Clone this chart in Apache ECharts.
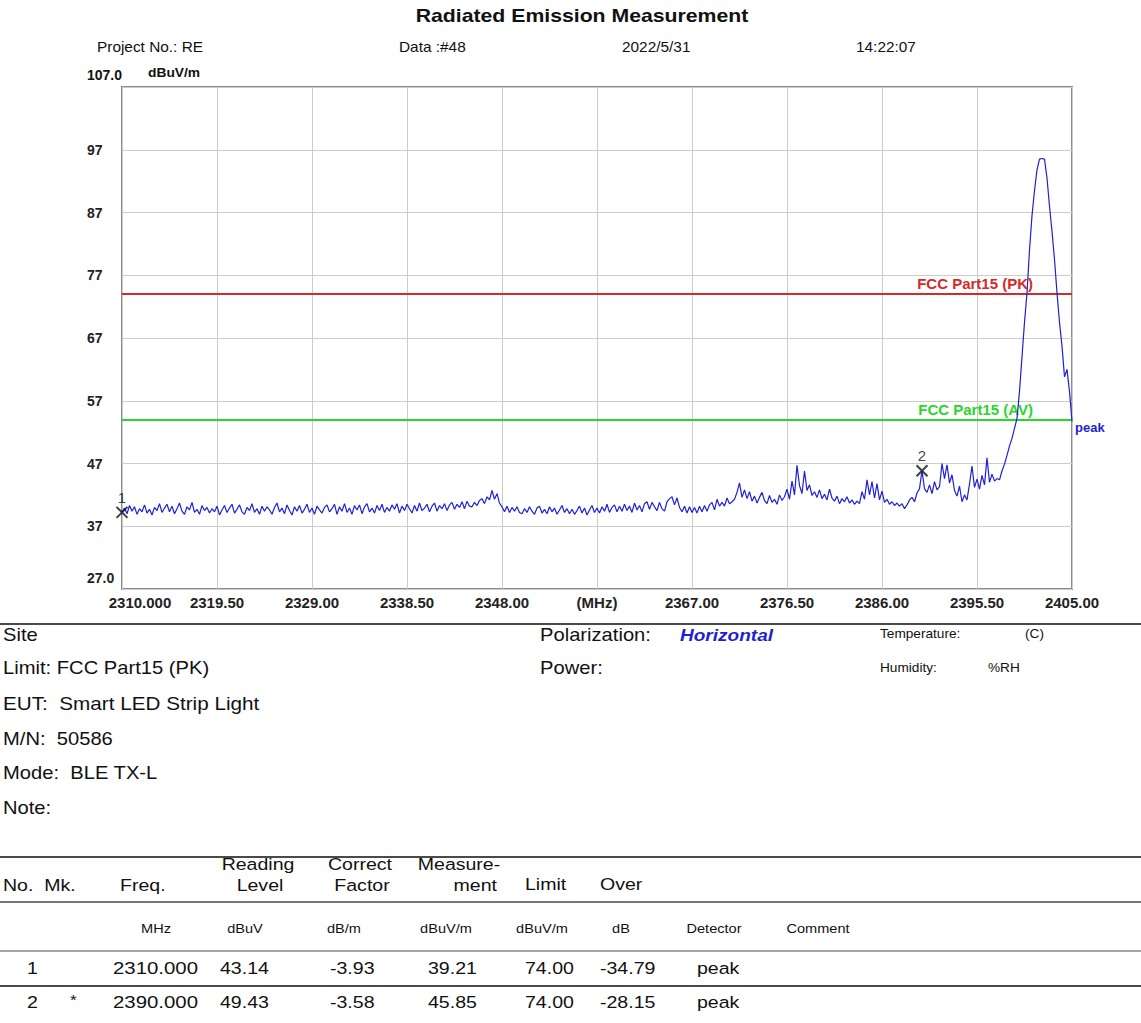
<!DOCTYPE html>
<html><head><meta charset="utf-8">
<script src="https://cdn.jsdelivr.net/npm/echarts@6/dist/echarts.min.js"></script>
<style>html,body{margin:0;padding:0;background:#fff;}#c{width:1141px;height:1023px;}</style>
</head><body><div id="c"></div>
<script>
// ---------- data ----------
const freqStart = 2310, freqEnd = 2405, freqStep = 0.25;
const s2310 = [39.21,39.9,39.0,40.3,39.4,40.1,38.9,39.8,39.3,40.4,39.1,39.7,38.8,40.0,39.5,40.6,39.2,39.9,40.5,39.3,
  40.2,39.0,39.8,40.7,39.4,38.9,40.1,39.6,40.8,39.2,39.7,38.9,40.3,39.5,40.0,39.1,39.8,39.3,40.2,38.8];
const s2320 = [39.6,40.3,39.2,39.9,40.5,39.1,39.7,40.4,39.3,38.9,40.0,39.5,40.6,39.2,39.8,38.9,40.2,39.4,40.1,39.6,
  38.9,40.0,40.7,39.3,39.9,39.0,40.4,39.5,38.8,40.1,39.4,40.3,39.1,39.7,40.5,39.2,39.9,38.9,40.2,39.6];
const s2330 = [39.1,40.0,40.4,39.3,39.8,40.5,38.9,40.1,39.4,40.6,39.2,39.9,38.9,40.3,39.6,40.4,39.0,40.1,40.6,39.3,
  39.9,39.1,40.3,39.5,40.5,39.2,40.0,39.4,40.4,39.7,40.6,39.1,40.2,39.5,40.5,39.8,39.1,40.3,39.4,40.7];
const s2340 = [39.5,39.9,40.5,39.3,40.2,40.7,39.4,40.3,39.8,40.6,39.5,40.4,40.8,39.7,40.5,40.0,40.9,39.8,41.0,40.2,
  40.1,40.8,40.3,41.1,41.4,40.6,41.7,41.2,42.7,41.3,42.2,40.7,40.1,39.3,40.2,39.2,40.0,39.4,40.1,39.2];
const s2350 = [39.0,39.8,39.2,40.1,39.4,38.9,39.9,40.2,39.1,39.7,39.0,40.1,39.3,39.9,38.9,39.6,40.3,39.2,39.8,39.0,
  39.7,38.9,39.5,40.2,39.1,39.9,38.8,39.6,40.3,39.2,39.9,39.1,40.1,39.4,40.5,39.2,40.0,40.4,39.3,40.2];
const s2360 = [39.4,40.5,39.5,40.2,39.2,40.7,39.6,40.3,39.3,40.6,40.9,39.7,40.8,40.1,39.5,40.8,39.8,39.4,40.9,41.4,
  41.7,40.4,41.5,40.0,39.3,40.2,39.1,40.1,39.2,40.0,39.1,40.2,39.3,40.3,39.4,40.4,40.8,39.6,41.3,40.2];
const s2370 = [40.8,40.2,41.5,40.6,40.9,41.3,42.4,43.9,41.6,42.8,41.4,42.5,41.0,41.8,40.7,41.6,42.4,41.1,40.6,41.9,
  40.8,41.3,40.5,42.0,41.1,41.7,42.9,41.3,44.2,42.0,46.7,43.5,42.2,45.8,42.7,43.6,41.9,42.5,41.6,42.8];
const s2380 = [41.4,42.1,41.2,42.9,41.5,41.0,41.8,40.6,41.4,40.9,41.7,40.7,41.2,40.5,41.0,40.6,42.5,41.3,44.4,42.0,
  44.1,41.5,43.8,41.2,42.6,40.8,41.3,40.5,40.9,40.3,40.7,40.2,40.6,39.8,40.4,41.2,41.6,40.9,42.3,43.0];
const s2390 = [45.85,43.0,42.4,43.6,42.2,44.1,42.8,43.3,47.0,44.6,46.8,43.9,45.2,42.7,41.8,43.4,40.9,42.0,41.2,43.7,
  46.6,43.2,44.5,42.9,45.1,43.6,47.9,44.0,45.3,44.2,44.6,44.4,45.8,46.9,48.3,49.8,51.0,52.6,54.2,58.5];
const s2400 = [64.0,69.5,74.2,81.0,86.5,90.5,93.8,95.5,95.6,95.5,92.5,88.0,84.0,79.5,74.2,69.5,65.7,60.8,62.0,58.5,53.7];

const xTickLabels = ['2310.000','2319.50','2329.00','2338.50','2348.00','(MHz)','2367.00','2376.50','2386.00','2395.50','2405.00'];
const yTickLabels = ['27.0','37','47','57','67','77','87','97','107.0'];
const limitPK = 74, limitAV = 54;

// marker table
const markNo = ['1','2'];
const markStar = ['','*'];
const markFreq = [2310.000, 2390.000];
const readingLevel = [43.14, 49.43];
const correctFactor = [-3.93, -3.58];
const measurement = [39.21, 45.85];
const limitCol = [74.00, 74.00];
const overCol = [-34.79, -28.15];
const detectorCol = ['peak','peak'];

// ---------- build ----------
const trace = [].concat(s2310,s2320,s2330,s2340,s2350,s2360,s2370,s2380,s2390,s2400);
const traceData = trace.map((v,i)=>[i*freqStep, v]); // x = offset from freqStart
const markerData = markFreq.map((f,i)=>[f-freqStart, measurement[i], markNo[i]]);

const FF = '"Liberation Sans", Arial, sans-serif';
function T(x, y, text, size, opt){
  opt = opt || {};
  return {type:'text', x:x, y:y, scaleX: opt.sx || 1.15, silent:true,
    style:{text:text, fill: opt.color || '#111', fontSize:size, fontFamily:FF,
      fontWeight: opt.bold ? 'bold':'normal', fontStyle: opt.italic ? 'italic':'normal',
      align: opt.align || 'left', verticalAlign:'middle'}};
}
function L(y, w){ return {type:'line', silent:true, shape:{x1:0,y1:y,x2:1141,y2:y}, style:{stroke:'#4a4a4a', lineWidth:w}}; }

const g = [];
g.push(T(582, 16, 'Radiated Emission Measurement', 18, {bold:true, align:'center', sx:1.18}));
g.push(T(97, 47, 'Project No.: RE', 14, {sx:1.1}));
g.push(T(399, 47, 'Data :#48', 14, {sx:1.1}));
g.push(T(622, 47, '2022/5/31', 14, {sx:1.1}));
g.push(T(856, 47, '14:22:07', 14, {sx:1.1}));
g.push(T(87, 75, '107.0', 14, {bold:true, sx:1.0}));
g.push(T(148, 73, 'dBuV/m', 12, {bold:true, sx:1.15}));

g.push(L(624, 2));
g.push(T(3, 635, 'Site', 18, {sx:1.12}));
g.push(T(3, 668, 'Limit: FCC Part15 (PK)', 18, {sx:1.12}));
g.push(T(3, 704, 'EUT:  Smart LED Strip Light', 18, {sx:1.15}));
g.push(T(3, 739, 'M/N:  50586', 18, {sx:1.12}));
g.push(T(3, 773, 'Mode:  BLE TX-L', 18, {sx:1.12}));
g.push(T(3, 808, 'Note:', 18, {sx:1.12}));
g.push(T(540, 635, 'Polarization:', 18, {sx:1.12}));
g.push(T(680, 635, 'Horizontal', 17, {bold:true, italic:true, color:'#1f1fcf', sx:1.12}));
g.push(T(540, 668, 'Power:', 18, {sx:1.12}));
g.push(T(880, 634, 'Temperature:', 13, {sx:1.05}));
g.push(T(1025, 634, '(C)', 13, {sx:1.05}));
g.push(T(880, 668, 'Humidity:', 13, {sx:1.05}));
g.push(T(988, 668, '%RH', 13, {sx:1.05}));

// table
g.push(L(857, 2));
g.push(T(3, 885, 'No.  Mk.', 17));
g.push(T(120, 885, 'Freq.', 17));
g.push(T(258, 864, 'Reading', 17, {align:'center'}));
g.push(T(260, 885, 'Level', 17, {align:'center'}));
g.push(T(360, 864, 'Correct', 17, {align:'center'}));
g.push(T(362, 885, 'Factor', 17, {align:'center'}));
g.push(T(459, 864, 'Measure-', 17, {align:'center'}));
g.push(T(497, 885, 'ment', 17, {align:'right'}));
g.push(T(525, 884, 'Limit', 17));
g.push(T(600, 884, 'Over', 17));
g.push(L(902, 1.5));
const unitX = [156,245,344,446,542,621,714,818];
const unitT = ['MHz','dBuV','dB/m','dBuV/m','dBuV/m','dB','Detector','Comment'];
unitT.forEach((u,i)=>g.push(T(unitX[i], 929, u, 13, {align:'center', sx:1.12})));
g.push(L(951, 1));
const rowY = [968, 1002];
markNo.forEach((n,i)=>{
  const y = rowY[i];
  g.push(T(27, y, n, 17));
  if (markStar[i]) g.push(T(70, y-3, markStar[i], 15));
  g.push(T(113, y, markFreq[i].toFixed(3), 17, {sx:1.2}));
  g.push(T(220, y, readingLevel[i].toFixed(2), 17));
  g.push(T(330, y, correctFactor[i].toFixed(2), 17));
  g.push(T(428, y, measurement[i].toFixed(2), 17));
  g.push(T(525, y, limitCol[i].toFixed(2), 17));
  g.push(T(600, y, overCol[i].toFixed(2), 17));
  g.push(T(697, y, detectorCol[i], 17));
});
g.push(L(986, 2));

const chart = echarts.init(document.getElementById('c'), null, {renderer:'svg'});
chart.setOption({
  animation:false,
  backgroundColor:'#fff',
  grid:{left:122, right:69, top:87, bottom:434, show:true, borderColor:'#8c8c8c', borderWidth:2, backgroundColor:'transparent'},
  xAxis:{type:'value', min:0, max:freqEnd-freqStart, interval:9.5,
    axisLine:{show:false}, axisTick:{show:false},
    splitLine:{show:true, lineStyle:{color:'#cccccc', width:1}},
    axisLabel:{margin:6, color:'#222', fontFamily:FF, fontWeight:'bold', fontSize:15,
      formatter:(v,i)=> i===0 ? '{f|'+xTickLabels[0]+'}' : (xTickLabels[i]||''),
      rich:{f:{fontFamily:FF, fontWeight:'bold', fontSize:15, color:'#222', padding:[0,0,0,36]}}}},
  yAxis:{type:'value', min:27, max:107, interval:10,
    axisLine:{show:false}, axisTick:{show:false},
    splitLine:{show:true, lineStyle:{color:'#cccccc', width:1}},
    axisLabel:{margin:35, align:'left', color:'#222', fontFamily:FF, fontWeight:'bold', fontSize:14,
      formatter:(v,i)=> i===0 ? '{b|'+yTickLabels[0]+'}' : (i===8 ? '' : yTickLabels[i]),
      rich:{b:{fontFamily:FF, fontWeight:'bold', fontSize:14, color:'#222', padding:[0,0,22,0]}}}},
  graphic:{elements:g},
  series:[
    {type:'line', data:traceData, showSymbol:false, symbol:'none', z:5,
      lineStyle:{color:'#2020d4', width:1.2},
      endLabel:{show:true, formatter:'peak', color:'#1f1fcf', fontFamily:FF, fontWeight:'bold', fontSize:13, distance:3, offset:[0,6]},
      markLine:{silent:true, symbol:'none', animation:false,
        data:[
          {yAxis:limitPK, lineStyle:{color:'#d42a2a', width:2, type:'solid'},
            label:{show:true, position:'insideEndTop', formatter:'FCC Part15 (PK)', color:'#d42a2a', fontFamily:FF, fontWeight:'bold', fontSize:15, padding:[0,36,0,0], distance:3}},
          {yAxis:limitAV, lineStyle:{color:'#2ad62a', width:2, type:'solid'},
            label:{show:true, position:'insideEndTop', formatter:'FCC Part15 (AV)', color:'#2ad62a', fontFamily:FF, fontWeight:'bold', fontSize:15, padding:[0,36,0,0], distance:3}}
        ]}},
    {type:'scatter', data:markerData, z:6, symbol:'path://M0 0L10 10M10 0L0 10', symbolSize:11,
      itemStyle:{color:'rgba(0,0,0,0)', borderColor:'#111', borderWidth:2},
      label:{show:true, position:'top', distance:1, color:'#111', fontFamily:FF, fontSize:15, formatter:p=>p.value[2]}}
  ]
});
</script></body></html>
